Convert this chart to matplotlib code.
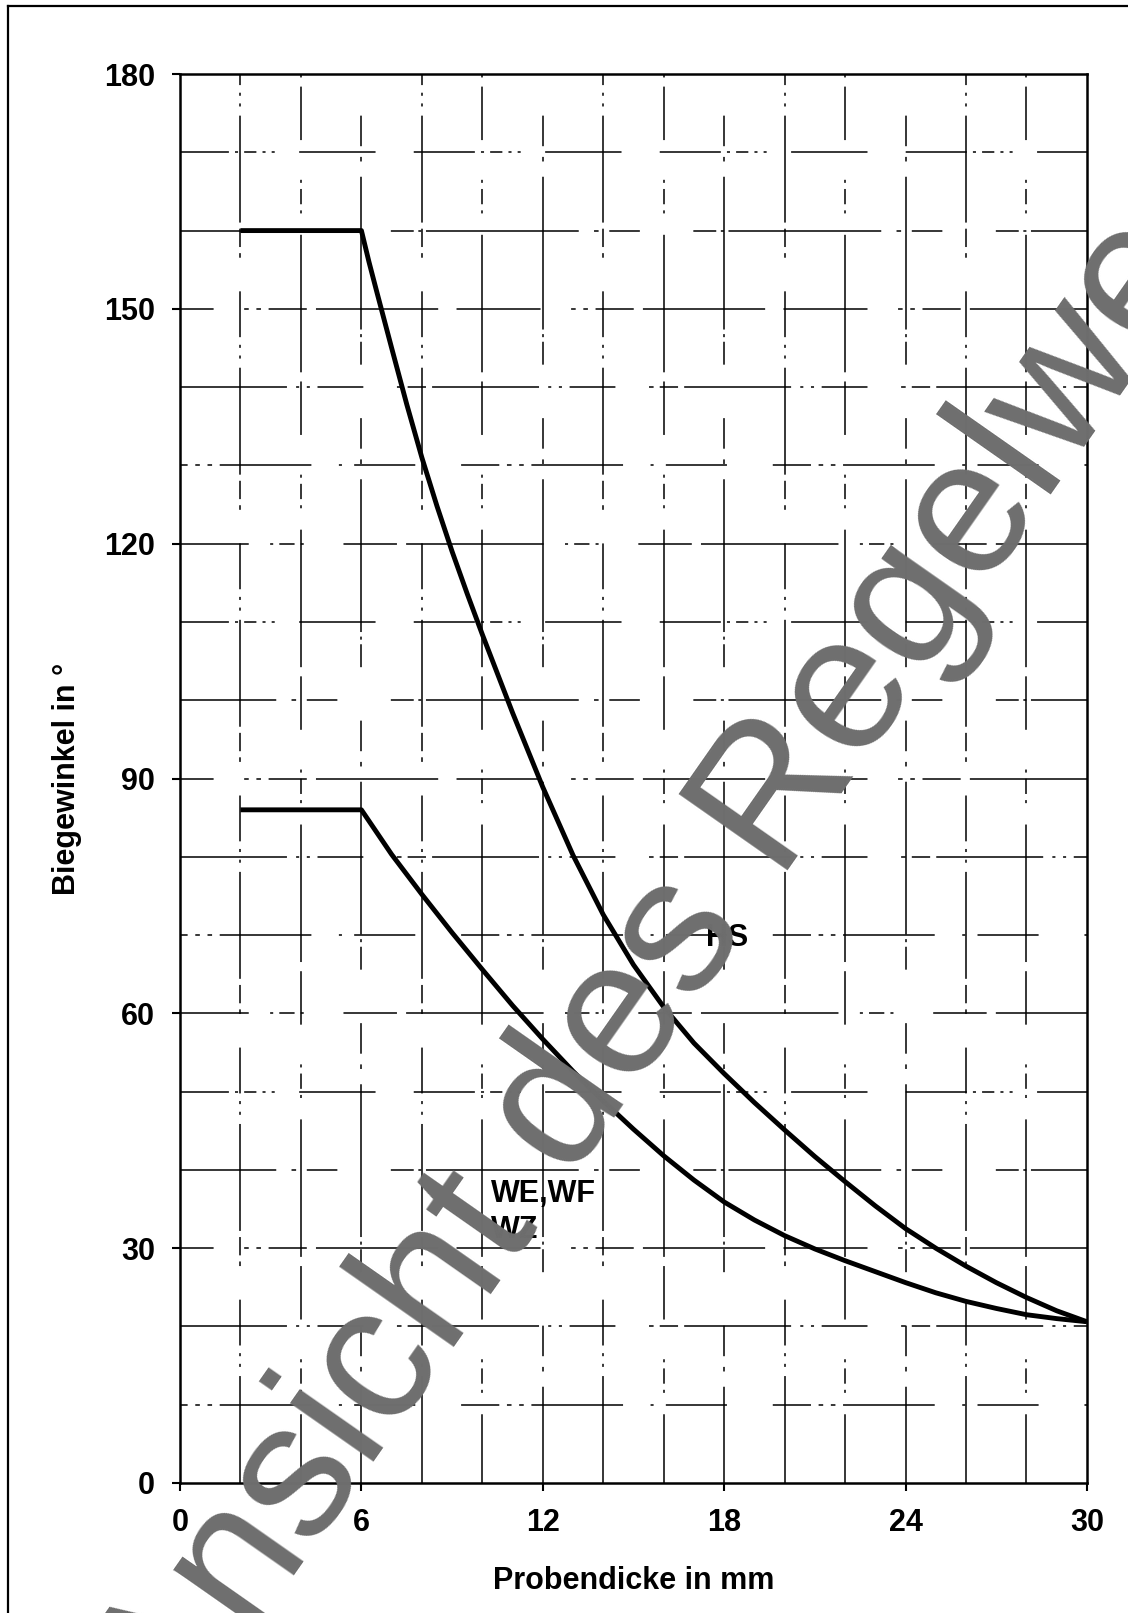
import numpy as np
import matplotlib.pyplot as plt
from matplotlib.lines import Line2D

# Biegewinkel ueber Probendicke
hs_x = [2, 6, 6.25, 6.5, 7, 7.5, 8, 8.5, 9, 9.5, 10, 11, 12, 13, 14, 15, 16, 17, 18, 19, 20,
        21, 22, 23, 24, 25, 26, 27, 28, 29, 30]
hs_y = [160, 160, 156, 152.3, 145, 137.8, 131, 124.8, 119, 113.6, 108.4, 98.4, 88.9, 80.2, 72.6,
        66.2, 60.8, 56.2, 52.3, 48.6, 45.1, 41.7, 38.5, 35.4, 32.5, 30.0, 27.7, 25.6, 23.7, 22.0, 20.6]

we_x = [2, 6, 7, 8, 9, 10, 11, 12, 13, 14, 15, 16, 17, 18, 19, 20, 21, 22, 23, 24, 25, 26, 27,
        28, 29, 30]
we_y = [86, 86, 80.3, 75.2, 70.3, 65.6, 61, 56.7, 52.6, 48.8, 45.2, 41.8, 38.7, 35.9, 33.6,
        31.6, 29.9, 28.4, 27, 25.6, 24.3, 23.2, 22.3, 21.5, 21, 20.6]

x_ticks = [0, 6, 12, 18, 24, 30]
y_ticks = [0, 30, 60, 90, 120, 150, 180]
x_grid = list(range(2, 30, 2))
y_grid = list(range(10, 180, 10))

font = 'Liberation Sans'
plt.rcParams['font.family'] = [font, 'DejaVu Sans']

fig = plt.figure(figsize=(11.28, 16.13), dpi=100)
ax = fig.add_axes([0.1596, 0.0806, 0.804, 0.8735])
ax.set_xlim(0, 30)
ax.set_ylim(0, 180)

# broken, scanned looking grid
patterns = [(0, (70, 6, 2, 5, 2, 5, 30, 22, 3, 4, 12, 4)),
            (20, (25, 5, 3, 5, 3, 5, 60, 18, 2, 8, 40, 30)),
            (45, (90, 14, 2, 4, 10, 4, 2, 26, 35, 6)),
            (8, (40, 4, 2, 4, 8, 4, 2, 4, 2, 16, 50, 25)),
            (60, (15, 3, 2, 3, 100, 10, 3, 7, 20, 35)),
            (33, (55, 20, 3, 5, 3, 5, 25, 6, 80, 12))]
for i, gx in enumerate(x_grid):
    ax.axvline(gx, color='black', lw=1.1, linestyle=patterns[(i * 2) % 6], zorder=1)
for i, gy in enumerate(y_grid):
    ax.axhline(gy, color='black', lw=1.1, linestyle=patterns[(i * 5 + 1) % 6], zorder=1)

ax.plot(hs_x, hs_y, color='black', lw=3.5, solid_joinstyle='round', solid_capstyle='butt', zorder=3)
ax.plot(we_x, we_y, color='black', lw=3.5, solid_joinstyle='round', solid_capstyle='butt', zorder=3)

ax.text(17.4, 69.6, 'HS', fontsize=22, fontweight='bold', ha='left', va='center', zorder=4)
ax.text(10.3, 38.8, 'WE,WF\nWZ', fontsize=22, fontweight='bold', ha='left', va='top',
        linespacing=1.27, zorder=4)

ax.set_xticks(x_ticks)
ax.set_yticks(y_ticks)
ax.tick_params(axis='x', direction='out', length=6, width=1.5, pad=12, labelsize=22)
ax.tick_params(axis='y', direction='out', length=6, width=1.5, pad=12, labelsize=22)
for lab in ax.get_xticklabels() + ax.get_yticklabels():
    lab.set_fontweight('bold')
for sp in ax.spines.values():
    sp.set_linewidth(1.8)

ax.set_xlabel('Probendicke in mm', fontsize=22, fontweight='bold', labelpad=20)
ax.set_ylabel('Biegewinkel in °', fontsize=22, fontweight='bold', labelpad=16)

# outer frame of the scan
fig.add_artist(Line2D([0.007, 0.007], [0, 0.996], color='black', lw=1.6, transform=fig.transFigure))
fig.add_artist(Line2D([0.007, 1.0], [0.996, 0.996], color='black', lw=1.6, transform=fig.transFigure))

# watermark
fig.text(767 / 1128, 1 - 900 / 1613, 'Ansicht des Regelwerks', fontsize=139, color='#6e6e6e',
         rotation=55, rotation_mode='anchor', ha='center', va='baseline', zorder=10)

fig.savefig('out.png', dpi=100)
